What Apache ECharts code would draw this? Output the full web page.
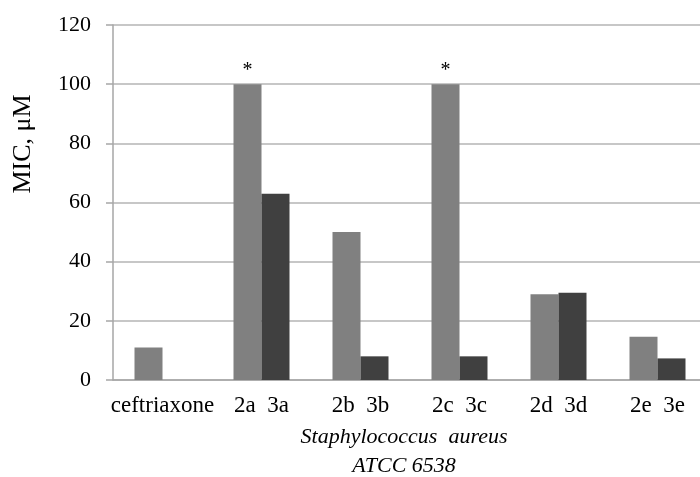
<!DOCTYPE html>
<html>
<head>
<meta charset="utf-8">
<style>html,body{margin:0;padding:0;background:#fff;}#c{width:700px;height:477px;}</style>
<script src="https://cdn.jsdelivr.net/npm/echarts@6/dist/echarts.min.js"></script>
</head>
<body>
<div id="c"></div>
<script>
var categories = ['ceftriaxone', '2a  3a', '2b  3b', '2c  3c', '2d  3d', '2e  3e'];
var seriesLight = [11, 100, 50, 100, 29, 14.6];
var seriesDark = [null, 63, 8, 8, 29.5, 7.3];
var starred = [false, true, false, true, false, false];
var yTicks = { min: 0, max: 120, interval: 20 };

var FONT = '"Liberation Serif", "DejaVu Serif", serif';
var chart = echarts.init(document.getElementById('c'), null, { renderer: 'canvas' });

var lightData = seriesLight.map(function (v, i) {
  return starred[i] ? { value: v, label: { show: true, formatter: '*', position: 'top', distance: 3, fontFamily: FONT, fontSize: 20, color: '#000' } } : v;
});

chart.setOption({
  animation: false,
  backgroundColor: '#fff',
  grid: { left: 113, right: -7, top: 25, bottom: 97, outerBoundsMode: 'none', containLabel: false },
  xAxis: {
    type: 'category',
    data: categories,
    axisLine: { show: true, lineStyle: { color: '#a6a6a6', width: 1.5 } },
    axisTick: { show: false },
    axisLabel: { interval: 0, margin: 14, color: '#000', fontFamily: FONT, fontSize: 23 },
    name: 'Staphylococcus  aureus\nATCC 6538',
    nameLocation: 'middle',
    nameGap: 43,
    nameTextStyle: { fontFamily: FONT, fontStyle: 'italic', fontSize: 22, color: '#000', lineHeight: 29, padding: [0, 12, 0, 0] }
  },
  yAxis: {
    type: 'value',
    min: yTicks.min, max: yTicks.max, interval: yTicks.interval,
    axisLine: { show: true, lineStyle: { color: '#a6a6a6', width: 1.5 } },
    axisTick: { show: true, length: 7, lineStyle: { color: '#a6a6a6', width: 1.5 } },
    axisLabel: { margin: 22, color: '#000', fontFamily: FONT, fontSize: 22 },
    splitLine: { show: true, lineStyle: { color: '#b4b4b4', width: 1.5 } }
  },
  graphic: [{
    type: 'text', x: 23, y: 144, rotation: Math.PI / 2,
    style: { text: 'MIC, μM', font: '26px ' + FONT, fill: '#000', align: 'center', verticalAlign: 'middle', textAlign: 'center', textVerticalAlign: 'middle' }
  }],
  series: [
    { name: '2', type: 'bar', data: lightData, barWidth: 28, barGap: '0%', itemStyle: { color: '#808080' } },
    { name: '3', type: 'bar', data: seriesDark, barWidth: 28, barGap: '0%', itemStyle: { color: '#404040' } }
  ]
});
</script>
</body>
</html>
